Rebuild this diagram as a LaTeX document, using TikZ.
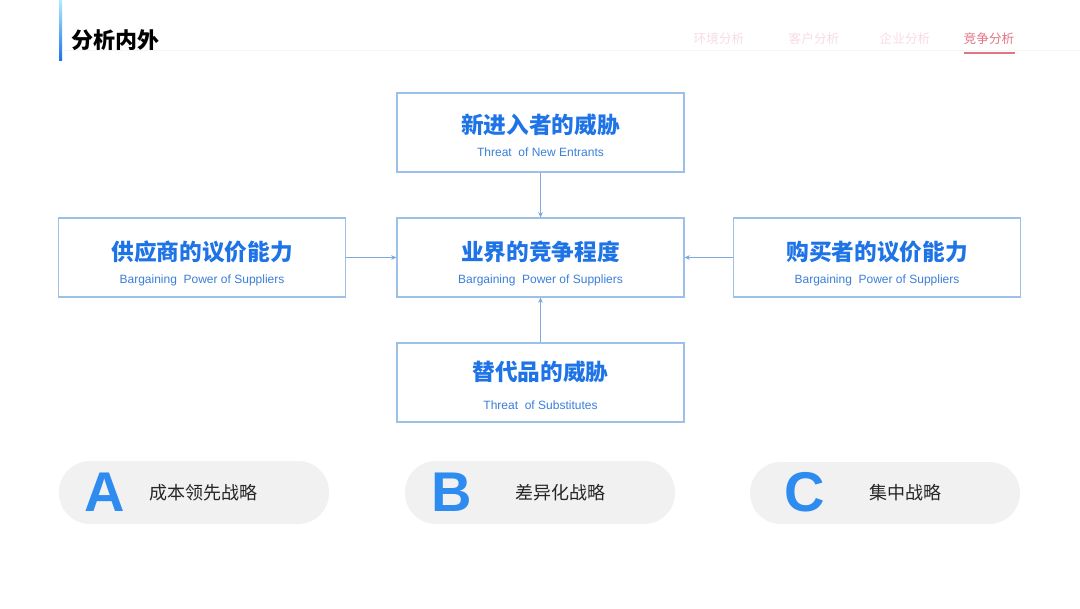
\documentclass[tikz,border=0pt]{standalone}
\usepackage{fontspec}
\setmainfont{Noto Sans CJK SC}
\newfontfamily\cjk{Noto Sans CJK SC}
\newfontfamily\latinsans{Liberation Sans}
\usetikzlibrary{arrows.meta}
\definecolor{boxline}{HTML}{9DC0E8}
\definecolor{titleblue}{HTML}{1E74E6}
\definecolor{subblue}{HTML}{3A7FD9}
\definecolor{letterblue}{HTML}{2E8BF0}
\definecolor{pillgray}{HTML}{F1F1F1}
\definecolor{tabfaint}{HTML}{F8DCE2}
\definecolor{tabactive}{HTML}{E27585}
\definecolor{arrowblue}{HTML}{7FA8DC}
\tikzset{
  forcebox/.style={draw=boxline, line width=0.8pt, minimum width=287*0.75pt, minimum height=79*0.75pt, inner sep=0pt},
  cntitle/.style={font=\cjk\bfseries\fontsize{17}{20}\selectfont, text=titleblue, inner sep=0pt, anchor=center},
  ensub/.style={font=\latinsans\fontsize{9}{11}\selectfont, text=subblue, inner sep=0pt, anchor=center},
  link/.style={draw=arrowblue, line width=0.6pt, -{Stealth[length=4pt,width=3.5pt]}},
  pill/.style={fill=pillgray, rounded corners=31*0.75pt, draw=none},
  bigletter/.style={font=\latinsans\bfseries\fontsize{42}{46}\selectfont, text=letterblue, inner sep=0pt, anchor=center},
  pilltext/.style={font=\cjk\fontsize{13.5}{16}\selectfont, text=black!85, inner sep=0pt, anchor=center},
  tab/.style={font=\cjk\fontsize{9.5}{12}\selectfont, text=tabfaint, inner sep=0pt, anchor=center}
}
\begin{document}
\begin{tikzpicture}[x=0.75pt,y=-0.75pt]
\useasboundingbox (0,0) rectangle (1080,608);
\fill[white] (0,0) rectangle (1080,608);
% header bar
\shade[top color=blue!25!cyan!30, bottom color=titleblue] (59,0) rectangle (62,60);
\node[font=\cjk\bfseries\fontsize{16.5}{20}\selectfont, anchor=west, inner sep=0pt] (title) at (71,40) {分析内外};
\draw[black!4, line width=0.5pt] (62,50) -- (1080,50);
% tabs
\node[tab] (tab1) at (719,39) {环境分析};
\node[tab] (tab2) at (814,39) {客户分析};
\node[tab] (tab3) at (905,39) {企业分析};
\node[tab, text=tabactive] (tab4) at (989,39) {竞争分析};
\draw[tabactive, line width=0.8pt] (964,53) -- (1015,53);
% boxes
\node[forcebox] (top) at (540.5,132.5) {};
\node[forcebox] (mid) at (540.5,257.5) {};
\node[forcebox] (left) at (202,257.5) {};
\node[forcebox] (right) at (877,257.5) {};
\node[forcebox] (bot) at (540.5,382.5) {};
% texts
\node[cntitle] (topt) at (540.5,125) {新进入者的威胁};
\node[ensub] (tops) at (540.5,152.5) {Threat\ \ of New Entrants};
\node[cntitle] (midt) at (540.5,252) {业界的竞争程度};
\node[ensub] (mids) at (540.5,280.5) {Bargaining\ \ Power of Suppliers};
\node[cntitle] (leftt) at (202,252) {供应商的议价能力};
\node[ensub] (lefts) at (202,280.5) {Bargaining\ \ Power of Suppliers};
\node[cntitle] (rightt) at (877,252) {购买者的议价能力};
\node[ensub] (rights) at (877,280.5) {Bargaining\ \ Power of Suppliers};
\node[cntitle] (bott) at (540.5,372) {替代品的威胁};
\node[ensub] (bots) at (540.5,405.5) {Threat\ \ of Substitutes};
% connectors
\draw[link] (top.south) -- (mid.north);
\draw[link] (left.east) -- (mid.west);
\draw[link] (right.west) -- (mid.east);
\draw[link] (bot.north) -- (mid.south);
% pills
\fill[pill] (59,461) rectangle (329,524);
\fill[pill] (405,461) rectangle (675,524);
\fill[pill] (750,462) rectangle (1020,524);
\node[bigletter] (la) at (105,492) {A};
\node[pilltext] (ta) at (203,493) {成本领先战略};
\node[bigletter] (lb) at (452,492) {B};
\node[pilltext] (tb) at (560,493) {差异化战略};
\node[bigletter] (lc) at (805,492) {C};
\node[pilltext] (tc) at (905,493) {集中战略};
\end{tikzpicture}
\end{document}
